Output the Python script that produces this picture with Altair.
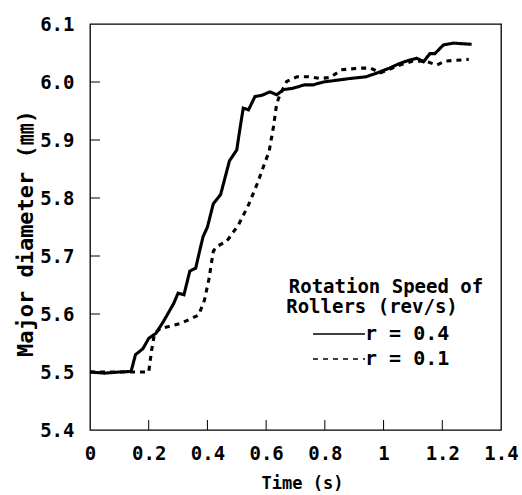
import altair as alt
import pandas as pd

# Measured major diameter vs. time for two roller rotation speeds
t_fast = [0.00, 0.05, 0.10, 0.14, 0.155, 0.18, 0.20, 0.225, 0.25, 0.285, 0.30, 0.32,
          0.34, 0.36, 0.375, 0.385, 0.40, 0.42, 0.445, 0.475, 0.50, 0.51, 0.522, 0.54,
          0.562, 0.585, 0.613, 0.636, 0.66, 0.69, 0.73, 0.76, 0.795, 0.84, 0.885, 0.94,
          0.975, 1.02, 1.055, 1.09, 1.113, 1.136, 1.158, 1.175, 1.204, 1.238, 1.30]
d_fast = [5.500, 5.498, 5.500, 5.501, 5.530, 5.540, 5.558, 5.567, 5.587, 5.618, 5.636, 5.633,
          5.674, 5.679, 5.712, 5.733, 5.750, 5.790, 5.806, 5.864, 5.883, 5.917, 5.955, 5.952,
          5.975, 5.977, 5.983, 5.978, 5.987, 5.989, 5.995, 5.995, 6.000, 6.003, 6.006, 6.009,
          6.015, 6.024, 6.032, 6.038, 6.041, 6.035, 6.049, 6.049, 6.064, 6.067, 6.065]

t_slow = [0.00, 0.10, 0.14, 0.20, 0.21, 0.22, 0.24, 0.31, 0.37, 0.39, 0.405, 0.42,
          0.43, 0.465, 0.505, 0.54, 0.57, 0.595, 0.61, 0.625, 0.636, 0.647, 0.67, 0.705,
          0.745, 0.785, 0.82, 0.855, 0.92, 0.955, 0.99, 1.02, 1.06, 1.10, 1.145, 1.18,
          1.21, 1.29]
d_slow = [5.500, 5.500, 5.500, 5.500, 5.538, 5.567, 5.575, 5.584, 5.598, 5.624, 5.660, 5.708,
          5.716, 5.725, 5.753, 5.788, 5.825, 5.860, 5.880, 5.923, 5.963, 5.978, 6.001, 6.009,
          6.009, 6.006, 6.008, 6.021, 6.024, 6.024, 6.016, 6.022, 6.030, 6.036, 6.036, 6.029,
          6.036, 6.039]

series_names = ["r = 0.4", "r = 0.1"]
x_ticks = [0.2, 0.4, 0.6, 0.8, 1.0, 1.2]
y_ticks = [5.5, 5.6, 5.7, 5.8, 5.9, 6.0]
x_labels = [0, 0.2, 0.4, 0.6, 0.8, 1.0, 1.2, 1.4]
y_labels = [5.4, 5.5, 5.6, 5.7, 5.8, 5.9, 6.0, 6.1]

# Monospaced legend title: pad the shorter line with blank cells so both
# lines share the same left edge when centred
legend_title = ["Rotation Speed of", "Rollers (rev/s)\u2800\u2800"]

FONT = "DejaVu Sans Mono, Noto Sans CJK JP"
W, H = 411, 406

df = pd.concat([
    pd.DataFrame({"t": t_fast, "d": d_fast, "series": series_names[0], "order": range(len(t_fast))}),
    pd.DataFrame({"t": t_slow, "d": d_slow, "series": series_names[1], "order": range(len(t_slow))}),
])

x_scale = alt.Scale(domain=[0, 1.4], nice=False, zero=False)
y_scale = alt.Scale(domain=[5.4, 6.1], nice=False, zero=False)

lines = alt.Chart(df).mark_line(color="black", strokeWidth=3.1).encode(
    x=alt.X("t:Q", scale=x_scale,
            axis=alt.Axis(title="Time (s)", values=x_labels,
                          labelExpr="format(datum.value, '~g')",
                          ticks=False, tickSize=0, domain=False, grid=False,
                          labelFlush=False, labelOverlap=False,
                          labelFont=FONT, labelFontSize=19, labelFontWeight="bold",
                          labelColor="black", labelPadding=14,
                          titleFont=FONT, titleFontSize=17, titleFontWeight="bold",
                          titleColor="black", titleX=212, titleY=53,
                          titleBaseline="middle", titleAlign="center")),
    y=alt.Y("d:Q", scale=y_scale,
            axis=alt.Axis(title="Major diameter (㎜)", values=y_labels,
                          format=".1f", ticks=False, tickSize=0, domain=False, grid=False,
                          labelFlush=False, labelOverlap=False,
                          labelFont=FONT, labelFontSize=19, labelFontWeight="bold",
                          labelColor="black", labelPadding=16,
                          titleFont=FONT, titleFontSize=22, titleFontWeight="bold",
                          titleColor="black", titleX=-65, titleY=H / 2 + 6, titleAngle=270,
                          titleBaseline="middle", titleAlign="center")),
    strokeDash=alt.StrokeDash(
        "series:N",
        scale=alt.Scale(domain=series_names, range=[[1, 0], [5, 5]]),
        legend=alt.Legend(
            title=legend_title,
            orient="none", legendX=196, legendY=254,
            titleAnchor="middle", titleAlign="center",
            titleFont=FONT, titleFontSize=19, titleFontWeight="bold", titleColor="black",
            titleLineHeight=20, titlePadding=7, titleLimit=400,
            labelFont=FONT, labelFontSize=20, labelFontWeight="bold", labelColor="black",
            # long horizontal stroke as the legend swatch
            symbolType="M-2.5,0H4", symbolSize=256, symbolStrokeWidth=1.5,
            symbolStrokeColor="black", rowPadding=5, labelOffset=22,
            offset=0,
        ),
    ),
    order="order:Q",
)

# Inward tick marks along the bottom and left edges
xt = alt.Chart(pd.DataFrame({"t": x_ticks})).mark_rule(color="black", strokeWidth=1).encode(
    x=alt.X("t:Q", scale=x_scale), y=alt.value(H), y2=alt.value(H - 10))
yt = alt.Chart(pd.DataFrame({"d": y_ticks})).mark_rule(color="black", strokeWidth=1).encode(
    y=alt.Y("d:Q", scale=y_scale), x=alt.value(0), x2=alt.value(10))

chart = alt.layer(lines, xt, yt).properties(
    width=W, height=H,
    background="white",
    autosize=alt.AutoSizeParams(type="none"),
    padding={"left": 90, "top": 24, "right": 21, "bottom": 65},
).configure_view(
    stroke="black", strokeWidth=1.3,
)

chart.save("out.html", embed_options={"renderer": "svg", "actions": False})
